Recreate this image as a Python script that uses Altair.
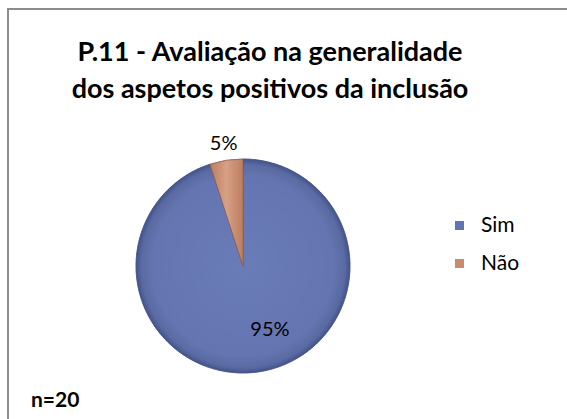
import altair as alt
import pandas as pd

# Chart data
categorias = ["Sim", "Não"]
percentagens = [95, 5]
cores = ["#6374b0", "#c98a6e"]
titulo = ["P.11 - Avaliação na generalidade", "dos aspetos positivos da inclusão"]
nota = "n=20"

W, H = 567, 419
CX, CY, R = 243, 266, 107
FONTE = "Lato"

df = pd.DataFrame({"categoria": categorias, "valor": percentagens})
um = pd.DataFrame({"k": [0]})

# Cumulative angles (radians) for each slice, clockwise from 12 o'clock
base = (
    alt.Chart(df)
    .transform_window(fim="sum(valor)", ordem="row_number()", frame=[None, 0])
    .transform_joinaggregate(total="sum(valor)")
    .transform_calculate(
        inicio="(datum.fim - datum.valor) / datum.total * 2 * PI",
        termino="datum.fim / datum.total * 2 * PI",
        meio="(datum.fim - datum.valor / 2) / datum.total * 2 * PI",
        rotulo="datum.valor + '%'",
    )
)

polar = dict(
    x=alt.value(CX),
    y=alt.value(CY),
    theta=alt.Theta("inicio:Q", scale=None),
    theta2="termino:Q",
)

fatias = base.mark_arc(radius=R, stroke="#4a5a8c", strokeWidth=0.6).encode(
    color=alt.Color(
        "categoria:N",
        scale=alt.Scale(domain=categorias, range=cores),
        legend=alt.Legend(
            title=None,
            orient="none",
            legendX=449,
            legendY=215,
            symbolType="square",
            symbolSize=81,
            symbolStrokeWidth=0,
            labelFont=FONTE,
            labelFontSize=21,
            labelColor="#000000",
            labelOffset=11,
            rowPadding=16,
        ),
    ),
    **polar,
)

# Shaded overlays giving each slice a darker rim
grad_sim = alt.RadialGradient(
    gradient="radial",
    stops=[
        alt.GradientStop(color="#6a7cb8", offset=0),
        alt.GradientStop(color="#6475b1", offset=0.84),
        alt.GradientStop(color="#5a6aa2", offset=0.95),
        alt.GradientStop(color="#44528a", offset=1),
    ],
    x1=0.5, y1=0.5, r1=0, x2=0.5, y2=0.5, r2=0.5,
)
grad_nao = alt.LinearGradient(
    gradient="linear",
    stops=[
        alt.GradientStop(color="#bd7d60", offset=0),
        alt.GradientStop(color="#d7a084", offset=0.5),
        alt.GradientStop(color="#bd7d60", offset=1),
    ],
    x1=0, y1=0.5, x2=1, y2=0.5,
)

sombra_sim = base.transform_filter("datum.categoria == 'Sim'").mark_arc(
    radius=R, fill=grad_sim, stroke="#4a5a8c", strokeWidth=0.6
).encode(**polar)
sombra_nao = base.transform_filter("datum.categoria == 'Não'").mark_arc(
    radius=R, fill=grad_nao, stroke="#8a5a46", strokeWidth=0.6
).encode(**polar)

rot_nao = base.transform_filter("datum.categoria == 'Não'").mark_text(
    font=FONTE, fontSize=20, color="#000000", baseline="middle"
).encode(
    x=alt.value(CX), y=alt.value(CY),
    theta=alt.Theta("meio:Q", scale=None),
    radius=alt.value(124),
    text="rotulo:N",
)
rot_sim = base.transform_filter("datum.categoria == 'Sim'").mark_text(
    font=FONTE, fontSize=20, color="#000000", baseline="middle", dx=16, dy=-5
).encode(
    x=alt.value(CX), y=alt.value(CY),
    theta=alt.Theta("meio:Q", scale=None),
    radius=alt.value(70),
    text="rotulo:N",
)

cabecalho = alt.Chart(um).mark_text(
    font=FONTE, fontSize=27, fontWeight="bold", color="#000000",
    align="center", baseline="alphabetic", lineHeight=37,
).encode(x=alt.value(270), y=alt.value(61), text=alt.value(titulo))

rodape = alt.Chart(um).mark_text(
    font=FONTE, fontSize=21, fontWeight="bold", color="#000000",
    align="left", baseline="alphabetic",
).encode(x=alt.value(31), y=alt.value(407), text=alt.value(nota))

# Chart-area frame (top and left edges)
moldura_topo = alt.Chart(um).mark_rule(color="#8c8c8c", strokeWidth=2).encode(
    x=alt.value(7), x2=alt.value(W), y=alt.value(9)
)
moldura_esq = alt.Chart(um).mark_rule(color="#8c8c8c", strokeWidth=2).encode(
    x=alt.value(8), y=alt.value(8), y2=alt.value(H)
)

chart = (
    alt.layer(
        moldura_topo, moldura_esq, fatias, sombra_sim, sombra_nao,
        rot_nao, rot_sim, cabecalho, rodape,
    )
    .properties(
        width=W, height=H, padding=0,
        autosize=alt.AutoSizeParams(type="none"),
        background="#ffffff",
    )
    .configure_view(stroke=None)
)

chart.save("out.html", embed_options={"renderer": "svg", "actions": False})
